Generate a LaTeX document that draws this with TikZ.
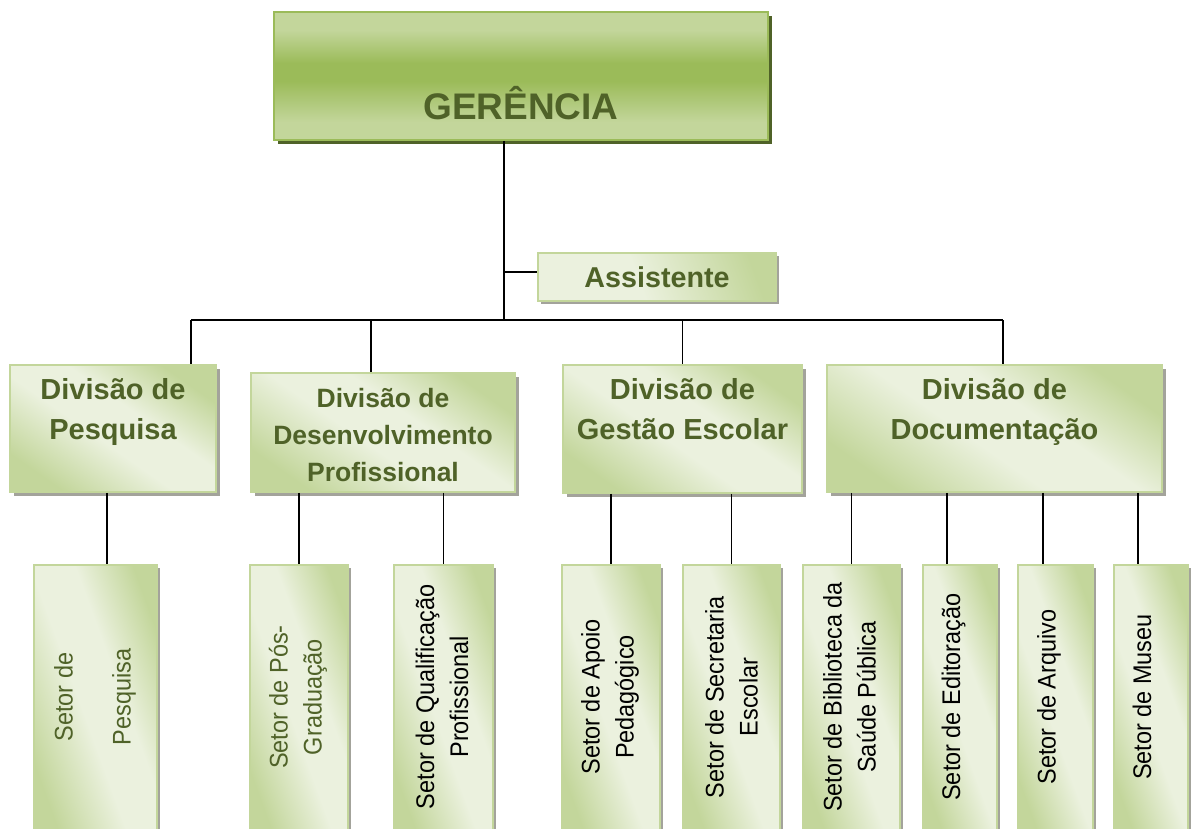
\documentclass[tikz,border=0pt]{standalone}
\usepackage{fontspec}
\setmainfont{Liberation Sans}
\newfontfamily\setfont[FakeStretch=0.92]{Liberation Sans}
\usetikzlibrary{shadows}
\definecolor{gText}{HTML}{4F6228}
\definecolor{gLight}{HTML}{EBF1DE}
\definecolor{gDark}{HTML}{C3D69B}
\definecolor{gStrong}{HTML}{9BBB59}
\definecolor{shGray}{HTML}{A3A39B}
\pgfdeclareverticalshading{gershade}{100bp}{color(0bp)=(gDark); color(25bp)=(gDark); color(32bp)=(gDark); color(48bp)=(gStrong); color(55bp)=(gStrong); color(68bp)=(gDark); color(100bp)=(gDark)}
\pgfdeclarehorizontalshading{divshade}{100bp}{color(0bp)=(gDark); color(25bp)=(gDark); color(45bp)=(gLight); color(58bp)=(gLight); color(75bp)=(gDark); color(100bp)=(gDark)}
\pgfdeclarehorizontalshading{asshade}{100bp}{color(0bp)=(gLight); color(25bp)=(gLight); color(45bp)=(gLight); color(75bp)=(gDark); color(100bp)=(gDark)}
\begin{document}
\begin{tikzpicture}[x=1pt,y=-1pt,
  gerbox/.style={draw=gStrong, line width=2pt, shading=gershade, inner sep=0pt,
    drop shadow={shadow xshift=4pt, shadow yshift=-4pt, fill=gText, opacity=1}},
  asbox/.style={draw=gDark, line width=1.5pt, shading=asshade, shading angle=20, inner sep=0pt,
    text=gText, font=\bfseries\fontsize{28.7}{34}\selectfont,
    drop shadow={shadow xshift=3pt, shadow yshift=-3pt, fill=shGray, opacity=1}},
  divbox/.style={draw=gDark, line width=1.5pt, shading=divshade, shading angle=55, inner sep=0pt,
    drop shadow={shadow xshift=4pt, shadow yshift=-4pt, fill=shGray, opacity=1}},
  setbox/.style={draw=gDark, line width=1.5pt, shading=divshade, shading angle=20, inner sep=0pt,
    minimum height=266pt,
    drop shadow={shadow xshift=3pt, shadow yshift=-3pt, fill=shGray, opacity=1}},
  gertext/.style={text=gText, inner sep=0pt, font=\bfseries\fontsize{37}{44}\selectfont},
  divtext/.style={text=gText, inner sep=0pt, align=center, anchor=north,
    font=\bfseries\fontsize{29}{40}\selectfont},
  settext/.style={inner sep=0pt, align=center, rotate=90,
    font=\setfont\fontsize{25.5}{34}\selectfont},
  conn/.style={draw=black, line width=1.6pt}
]
\useasboundingbox (0,0) rectangle (1193,829);

% top
\node[gerbox, minimum width=494pt, minimum height=128pt] (ger) at (521,76) {};
\node[gertext, anchor=base] (gert) at (521,120) {GERÊNCIA};
\node[asbox, minimum width=238pt, minimum height=48pt] (as) at (657,277) {Assistente};

% divisions
\node[divbox, minimum width=206pt, minimum height=127pt] (dp) at (113,428.5) {};
\node[divtext] (dpt) at (113,378) {Divisão de\\Pesquisa};
\node[divbox, minimum width=264pt, minimum height=119pt] (dd) at (383,432.5) {};
\node[divtext, font=\bfseries\fontsize{26.5}{37}\selectfont] (ddt) at (383,388) {Divisão de\\Desenvolvimento\\Profissional};
\node[divbox, minimum width=239pt, minimum height=128pt] (dg) at (682.5,429) {};
\node[divtext] (dgt) at (682.5,378) {Divisão de\\Gestão Escolar};
\node[divbox, minimum width=335pt, minimum height=127pt] (dc) at (994.5,428.5) {};
\node[divtext] (dct) at (994.5,378) {Divisão de\\Documentação};

% sectors
\node[setbox, minimum width=123pt] (sp) at (95.5,698) {};
\node[settext, text=gText, font=\setfont\fontsize{25.5}{58}\selectfont] (spt) at (95,697) {Setor de\\Pesquisa};
\node[setbox, minimum width=98pt] (pg) at (299,698) {};
\node[settext, text=gText] (pgt) at (298,697) {Setor de Pós-\\Graduação};
\node[setbox, minimum width=99pt] (qp) at (443.5,698) {};
\node[settext] (qpt) at (442,697) {Setor de Qualificação\\Profissional};
\node[setbox, minimum width=98pt] (ap) at (611,698) {};
\node[settext] (apt) at (610,697) {Setor de Apoio\\Pedagógico};
\node[setbox, minimum width=97pt] (ss) at (731.5,698) {};
\node[settext] (sst) at (731.5,697) {Setor de Secretaria\\Escolar};
\node[setbox, minimum width=97pt] (bs) at (851.5,698) {};
\node[settext] (bst) at (849.5,697) {Setor de Biblioteca da\\Saúde Pública};
\node[setbox, minimum width=74pt] (ed) at (960,698) {};
\node[settext, anchor=base] (edt) at (960,697) {Setor de Editoração};
\node[setbox, minimum width=75pt] (ar) at (1055.5,698) {};
\node[settext, anchor=base] (art) at (1055.5,697) {Setor de Arquivo};
\node[setbox, minimum width=74pt] (mu) at (1151,698) {};
\node[settext, anchor=base] (mut) at (1151,697) {Setor de Museu};

% connectors
\coordinate (j) at (504,320);
\coordinate (bl) at (191,320);
\coordinate (b2) at (371,320);
\coordinate (br) at (1003,320);
\coordinate (d1) at (107,0);
\coordinate (d7) at (947,0);
\coordinate (d8) at (1043,0);
\coordinate (d9) at (1138,0);

\draw[conn] (ger.south -| j) -- (j);
\draw[conn] ([yshift=5pt]as.west -| j) -- ([yshift=5pt]as.west);
\draw[conn] (bl) -- (br);
\draw[conn] (bl) -- (bl |- dp.north);
\draw[conn] (b2) -- (b2 |- dd.north);
\draw[conn] (dg.north |- j) -- (dg.north);
\draw[conn] (br) -- (br |- dc.north);

\draw[conn] (d1 |- dp.south) -- (d1 |- sp.north);
\draw[conn] (pg.north |- dd.south) -- (pg.north);
\draw[conn] (qp.north |- dd.south) -- (qp.north);
\draw[conn] (ap.north |- dg.south) -- (ap.north);
\draw[conn] (ss.north |- dg.south) -- (ss.north);
\draw[conn] (bs.north |- dc.south) -- (bs.north);
\draw[conn] (d7 |- dc.south) -- (d7 |- ed.north);
\draw[conn] (d8 |- dc.south) -- (d8 |- ar.north);
\draw[conn] (d9 |- dc.south) -- (d9 |- mu.north);
\end{tikzpicture}
\end{document}
